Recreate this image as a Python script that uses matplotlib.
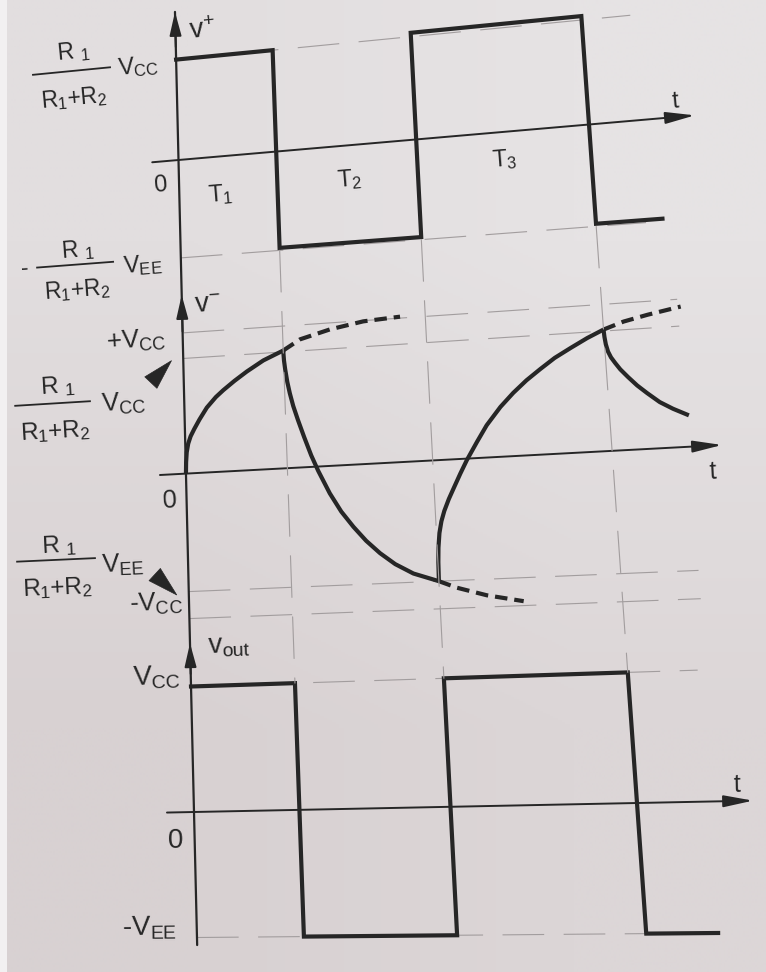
import numpy as np
import matplotlib
matplotlib.use("Agg")
import matplotlib.pyplot as plt
from matplotlib.transforms import Transform
from matplotlib.patches import ConnectionPatch, Rectangle
from matplotlib.colors import to_rgb

plt.rcParams['font.family'] = ['Liberation Sans', 'DejaVu Sans']
plt.rcParams['mathtext.fontset'] = 'custom'
plt.rcParams['mathtext.rm'] = 'Liberation Sans'
plt.rcParams['mathtext.it'] = 'Liberation Sans'
plt.rcParams['mathtext.bf'] = 'Liberation Sans:bold'
plt.rcParams['lines.scale_dashes'] = False

W, H = 766, 972
PAPER = '#dfdadb'
INK = '#262626'
GRID = '#a29d9e'

#%%
# Switching instants of the comparator (t = 10 is the second falling edge),
# last entry = end of the drawn trace
t_switch = [0.0, 2.38, 5.79, 10.0, 11.6]

# v+ : R1/(R1+R2) of the output, normalised to Vcc = 1
vplus_level = [0.80, -0.76, 0.83, -0.76]
vplus_grid = [0.80, -0.78]

# vout : comparator output, +Vcc / -Vee
vout_level = [1.0, -1.0, 1.0, -1.0]
vout_grid = [1.0, -1.0]

# v- : capacitor voltage, one list per RC segment
cap1_t = [0.0, 0.01, 0.03, 0.07, 0.13, 0.22, 0.35, 0.53, 0.75, 0.93, 1.20, 1.50, 1.90, 2.38]
cap1_v = [0.0, 0.08, 0.15, 0.21, 0.26, 0.31, 0.375, 0.455, 0.525, 0.57, 0.63, 0.69, 0.76, 0.82]
cap2_t = [2.38, 2.39, 2.41, 2.45, 2.50, 2.57, 2.67, 2.80, 2.95, 3.10, 3.35, 3.60, 3.87,
          4.15, 4.46, 4.80, 5.21, 5.50, 5.79]
cap2_v = [0.82, 0.75, 0.69, 0.60, 0.52, 0.43, 0.33, 0.21, 0.08, -0.03, -0.19, -0.32, -0.43,
          -0.53, -0.62, -0.70, -0.77, -0.80, -0.83]
cap3_t = [5.79, 5.80, 5.82, 5.86, 5.92, 6.00, 6.12, 6.26, 6.42, 6.59, 6.85, 7.10, 7.45,
          7.77, 8.10, 8.44, 8.80, 9.19, 9.60, 10.0]
cap3_v = [-0.83, -0.70, -0.60, -0.50, -0.42, -0.35, -0.27, -0.19, -0.10, -0.01, 0.11, 0.22,
          0.34, 0.43, 0.51, 0.58, 0.65, 0.71, 0.77, 0.82]
cap4_t = [10.0, 10.01, 10.03, 10.07, 10.13, 10.22, 10.33, 10.50, 10.70, 10.92, 11.20, 11.50, 11.86]
cap4_v = [0.82, 0.77, 0.72, 0.67, 0.63, 0.59, 0.545, 0.49, 0.43, 0.375, 0.31, 0.26, 0.21]

# where the capacitor would have gone without switching (dashed)
tail1_t = [2.38, 2.79, 3.51, 4.31, 5.19]
tail1_v = [0.82, 0.89, 0.945, 0.985, 1.0]
tail2_t = [5.79, 6.20, 6.88, 7.72]
tail2_v = [-0.83, -0.88, -0.94, -0.99]
tail3_t = [10.0, 10.49, 11.07, 11.87]
tail3_v = [0.82, 0.865, 0.90, 0.94]

vminus_grid = [0.99, 0.81, -0.83, -1.02]


#%%
class PageWarp(Transform):
    """Bilinear warp of the flat page onto the slightly tilted sheet."""
    input_dims = output_dims = 2

    def __init__(self, src, corners):
        super().__init__()
        self.src = src
        self.corners = np.asarray(corners, float)

    def transform_non_affine(self, values):
        xy = np.asarray(values, float).reshape(-1, 2)
        x0, y0, x1, y1 = self.src
        u = ((xy[:, 0] - x0) / (x1 - x0))[:, None]
        v = ((xy[:, 1] - y0) / (y1 - y0))[:, None]
        a, b, c, d = self.corners
        return (1 - u) * (1 - v) * a + u * (1 - v) * b + (1 - u) * v * c + u * v * d


# flat page: t = 0 and t = 10 columns, top and bottom zero lines
X_T0, PX_PER_T = 178.5, 41.05
Y_ZERO1, Y_SPAN = 160.0, 652.0
warp = PageWarp((X_T0, H - Y_ZERO1, X_T0 + 10 * PX_PER_T, H - Y_ZERO1 - Y_SPAN),
                [(178.5, H - 160.0), (589.0, H - 124.5), (194.0, H - 812.0), (637.0, H - 803.0)])

fig = plt.figure(figsize=(W / 100, H / 100), dpi=100, facecolor=PAPER)

# paper shading: a bit lighter towards the top right
bg = fig.add_axes([0, 0, 1, 1], label='paper', zorder=-10)
corners = np.array([[to_rgb('#e2dedf'), to_rgb('#e6e3e4')],
                    [to_rgb('#d8d1d2'), to_rgb('#dcd6d7')]])
bg.imshow(corners, extent=(0, 1, 0, 1), interpolation='bilinear', aspect='auto')
bg.set_axis_off()
fig.add_artist(Rectangle((0, 0), 7 / W, 1, transform=fig.transFigure,
                         facecolor='#f2f0f1', edgecolor='none'))


def make_panel(name, zero_v, scale):
    ax = fig.add_axes([0, 0, 1, 1], label=name)
    ax.set_xlim(-X_T0 / PX_PER_T, (W - X_T0) / PX_PER_T)
    ax.set_ylim((zero_v - (H - Y_ZERO1) / Y_SPAN) / scale, (zero_v + Y_ZERO1 / Y_SPAN) / scale)
    ax.set_axis_off()
    ax.patch.set_visible(False)
    return ax, ax.transData + warp


ax1, tr1 = make_panel('vplus', 0.0, 0.1925)
ax2, tr2 = make_panel('vminus', 0.481, 0.218)
ax3, tr3 = make_panel('vout', 1.0, 0.1925)


def steps(times, levels):
    return np.repeat(times, 2)[1:-1], np.repeat(levels, 2)


def label(ax, tr, t, v, s, size, ha='left', va='baseline'):
    p0, p1 = tr.transform([(t, v), (t + 0.5, v)])
    ang = np.degrees(np.arctan2(p1[1] - p0[1], p1[0] - p0[0]))
    ax.text(t, v, s, transform=tr, fontsize=size, ha=ha, va=va, color=INK,
            rotation=ang, rotation_mode='anchor', clip_on=False)


def arrow(ax, tr, start, end, length, width, lw):
    ax.annotate('', xy=end, xytext=start, xycoords=tr, textcoords=tr,
                arrowprops=dict(arrowstyle='-|>,head_length=%g,head_width=%g' % (length, width),
                                mutation_scale=20, lw=lw, color=INK, shrinkA=0, shrinkB=0))


grid_kw = dict(color=GRID, lw=0.8, ls=(0, (30, 14)), zorder=1, clip_on=False)
wave_kw = dict(color=INK, lw=3.0, zorder=4, clip_on=False, solid_joinstyle='miter')
curve_kw = dict(color=INK, lw=3.0, zorder=4, clip_on=False, solid_joinstyle='round',
                solid_capstyle='butt')
tail_kw = dict(color=INK, lw=3.0, ls=(0, (9, 5)), zorder=4, clip_on=False)

# horizontal reference levels
for lev in vplus_grid:
    ax1.plot([0, 11.2], [lev, lev], transform=tr1, **grid_kw)
for lev in vminus_grid:
    ax2.plot([0, 11.8], [lev, lev], transform=tr2, **grid_kw)
for lev in vout_grid:
    ax3.plot([0, 11.6], [lev, lev], transform=tr3, **grid_kw)

# vertical markers at each switching instant, from v+ low down to vout high
for ts in t_switch[1:4]:
    fig.add_artist(ConnectionPatch((ts, vplus_grid[1]), (ts, vout_grid[0]), tr1, tr3,
                                   color=GRID, lw=0.8, ls=(0, (30, 14)), zorder=1))

# common vertical axis with three arrow heads
fig.add_artist(ConnectionPatch((0, 1.18), (0, -1.06), tr1, tr3, color=INK, lw=1.6, zorder=3))
arrow(ax1, tr1, (0, 0.9), (0, 1.18), 0.72, 0.18, 1.4)
arrow(ax2, tr2, (0, 1.0), (0, 1.257), 0.72, 0.18, 1.4)
arrow(ax3, tr3, (0, 1.1), (0, 1.345), 0.72, 0.18, 1.4)

# time axes
arrow(ax1, tr1, (-0.64, 0), (12.58, 0), 0.9, 0.18, 1.4)
arrow(ax2, tr2, (-0.61, 0), (12.58, 0), 0.9, 0.18, 1.4)
arrow(ax3, tr3, (-0.61, 0), (12.62, 0), 0.9, 0.18, 1.4)

# waveforms
x, y = steps(t_switch, vplus_level)
ax1.plot(x, y, transform=tr1, **wave_kw)
x, y = steps(t_switch, vout_level)
ax3.plot(x, y, transform=tr3, **wave_kw)
for ct, cv in [(cap1_t, cap1_v), (cap2_t, cap2_v), (cap3_t, cap3_v), (cap4_t, cap4_v)]:
    ax2.plot(ct, cv, transform=tr2, **curve_kw)
for ct, cv in [(tail1_t, tail1_v), (tail2_t, tail2_v), (tail3_t, tail3_v)]:
    ax2.plot(ct, cv, transform=tr2, **tail_kw)

# threshold pointers
for tip, base in [((-0.28, 0.80), (-0.78, 0.655)), ((-0.28, -0.85), (-0.78, -0.70))]:
    ax2.annotate('', xy=tip, xytext=base, xycoords=tr2, textcoords=tr2,
                 arrowprops=dict(arrowstyle='wedge,tail_width=0.6,shrink_factor=0.5',
                                 mutation_scale=20, fc=INK, ec=INK, lw=0.5,
                                 shrinkA=0, shrinkB=0))

# fraction bars of the R1/(R1+R2) labels
ax1.plot([-3.53, -1.63], [0.79, 0.79], transform=tr1, color=INK, lw=1.3, clip_on=False)
ax1.plot([-3.46, -1.63], [-0.77, -0.77], transform=tr1, color=INK, lw=1.3, clip_on=False)
ax2.plot([-4.0, -2.23], [0.55, 0.55], transform=tr2, color=INK, lw=1.3, clip_on=False)
ax2.plot([-3.97, -2.16], [-0.565, -0.565], transform=tr2, color=INK, lw=1.3, clip_on=False)

# panel 1 text
label(ax1, tr1, 0.36, 0.95, r'v$^{+}$', 20)
label(ax1, tr1, 12.06, 0.07, 't', 17)
label(ax1, tr1, -0.61, -0.24, '0', 17)
label(ax1, tr1, 0.70, -0.354, r'T$_1$', 17)
label(ax1, tr1, 3.83, -0.318, r'T$_2$', 17)
label(ax1, tr1, 7.60, -0.263, r'T$_3$', 17)
label(ax1, tr1, -2.52, 0.89, r'R $_1$', 16.5, ha='center')
label(ax1, tr1, -2.52, 0.515, r'R$_1$+R$_2$', 16.5, ha='center')
label(ax1, tr1, -1.43, 0.722, r'V$_{\rm CC}$', 17)
label(ax1, tr1, -3.83, -0.82, '-', 16.5)
label(ax1, tr1, -2.47, -0.71, r'R $_1$', 16.5, ha='center')
label(ax1, tr1, -2.50, -1.03, r'R$_1$+R$_2$', 16.5, ha='center')
label(ax1, tr1, -1.39, -0.866, r'V$_{\rm EE}$', 17)

# panel 2 text
label(ax2, tr2, 0.31, 1.124, r'v$^{-}$', 20)
label(ax2, tr2, 12.23, -0.22, 't', 18)
label(ax2, tr2, -0.55, -0.234, '0', 18.5)
label(ax2, tr2, -1.81, 0.905, r'+V$_{\rm CC}$', 18.5)
label(ax2, tr2, -2.97, 0.622, r'R $_1$', 17.5, ha='center')
label(ax2, tr2, -3.04, 0.303, r'R$_1$+R$_2$', 17.5, ha='center')
label(ax2, tr2, -1.95, 0.468, r'V$_{\rm CC}$', 18.5)
label(ax2, tr2, -2.98, -0.51, r'R $_1$', 17.5, ha='center')
label(ax2, tr2, -3.04, -0.815, r'R$_1$+R$_2$', 17.5, ha='center')
label(ax2, tr2, -2.0, -0.672, r'V$_{\rm EE}$', 18.5)
label(ax2, tr2, -1.37, -0.957, r'-V$_{\rm CC}$', 18.5)

# panel 3 text
label(ax3, tr3, 0.41, 1.261, r'v$_{\rm out}$', 20)
label(ax3, tr3, 12.2, 0.068, 't', 18)
label(ax3, tr3, -0.6, -0.283, '0', 20)
label(ax3, tr3, -1.33, 1.026, r'V$_{\rm CC}$', 20)
label(ax3, tr3, -1.67, -0.975, r'-V$_{\rm EE}$', 20)

fig.savefig('out.png', dpi=100, facecolor=PAPER)
